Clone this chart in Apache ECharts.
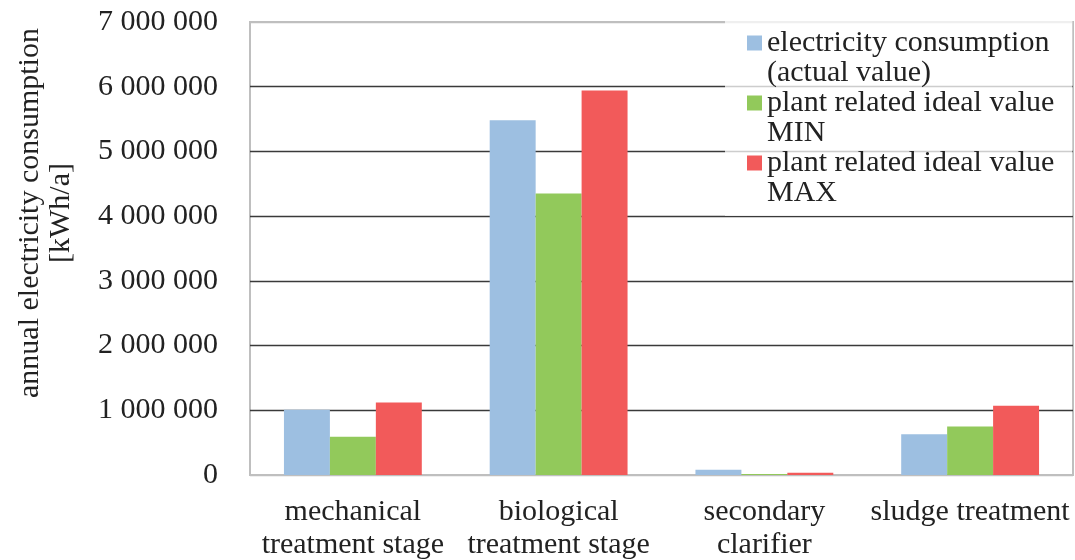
<!DOCTYPE html>
<html>
<head>
<meta charset="utf-8">
<script src="https://cdn.jsdelivr.net/npm/echarts@6/dist/echarts.min.js"></script>
<style>html,body{margin:0;padding:0;background:#fff}#c{width:1075px;height:560px}</style>
</head>
<body>
<div id="c"></div>
<script>
const categories = ['mechanical\ntreatment stage', 'biological\ntreatment stage', 'secondary\nclarifier', 'sludge treatment'];
const seriesNames = ['electricity consumption\n(actual value)', 'plant related ideal value\nMIN', 'plant related ideal value\nMAX'];
const actualValues = [1010000, 5480000, 80000, 630000];
const minValues = [590000, 4350000, 15000, 750000];
const maxValues = [1120000, 5940000, 35000, 1070000];
const yTicks = [0, 1000000, 2000000, 3000000, 4000000, 5000000, 6000000, 7000000];
const yTitle = 'annual electricity consumption\n[kWh/a]';
const colors = ['#9DBFE1', '#92C95B', '#F25A5A'];

const FONT = "'Liberation Serif', 'Times New Roman', serif";
const FS = 30;
const chart = echarts.init(document.getElementById('c'));
const fmt = v => String(v).replace(/\B(?=(\d{3})+(?!\d))/g, ' ');
chart.setOption({
  animation: false,
  color: colors,
  textStyle: { fontFamily: FONT, color: '#222' },
  grid: { left: 250, right: 2, top: 22, bottom: 85, show: true, borderColor: '#BFBFBF', borderWidth: 2, outerBoundsMode: 'none', containLabel: false },
  xAxis: {
    type: 'category',
    data: categories,
    axisLine: { lineStyle: { color: '#BFBFBF', width: 2 } },
    axisTick: { show: false },
    axisLabel: { fontFamily: FONT, fontSize: FS, lineHeight: 33, color: '#222', margin: 21, interval: 0 }
  },
  yAxis: {
    type: 'value',
    min: yTicks[0],
    max: yTicks[yTicks.length - 1],
    interval: yTicks[1] - yTicks[0],
    axisLine: { show: false },
    axisTick: { show: false },
    axisLabel: { fontFamily: FONT, fontSize: FS, color: '#222', margin: 32, formatter: fmt },
    splitLine: { lineStyle: { color: ['#BFBFBF', '#3a3a3a', '#3a3a3a', '#3a3a3a', '#3a3a3a', '#3a3a3a', '#3a3a3a', '#BFBFBF'], width: 1.3 } }
  },
  legend: {
    orient: 'vertical',
    left: 725,
    top: -2,
    padding: [0, 18, 8, 22],
    itemGap: -30,
    itemWidth: 15,
    itemHeight: 15,
    icon: 'rect',
    backgroundColor: 'rgba(255,255,255,0.75)',
    formatter: n => ' \n' + n,
    textStyle: { fontFamily: FONT, fontSize: FS, lineHeight: 30, color: '#222' },
    data: seriesNames
  },
  graphic: [{
    type: 'text',
    x: 46,
    y: 213,
    rotation: Math.PI / 2,
    style: { text: yTitle, font: FS + 'px ' + FONT, fill: '#222', align: 'center', verticalAlign: 'middle', lineHeight: 31 }
  }],
  series: [
    { name: seriesNames[0], type: 'bar', data: actualValues, barGap: '0%', barCategoryGap: '33%' },
    { name: seriesNames[1], type: 'bar', data: minValues },
    { name: seriesNames[2], type: 'bar', data: maxValues }
  ]
});
</script>
</body>
</html>
